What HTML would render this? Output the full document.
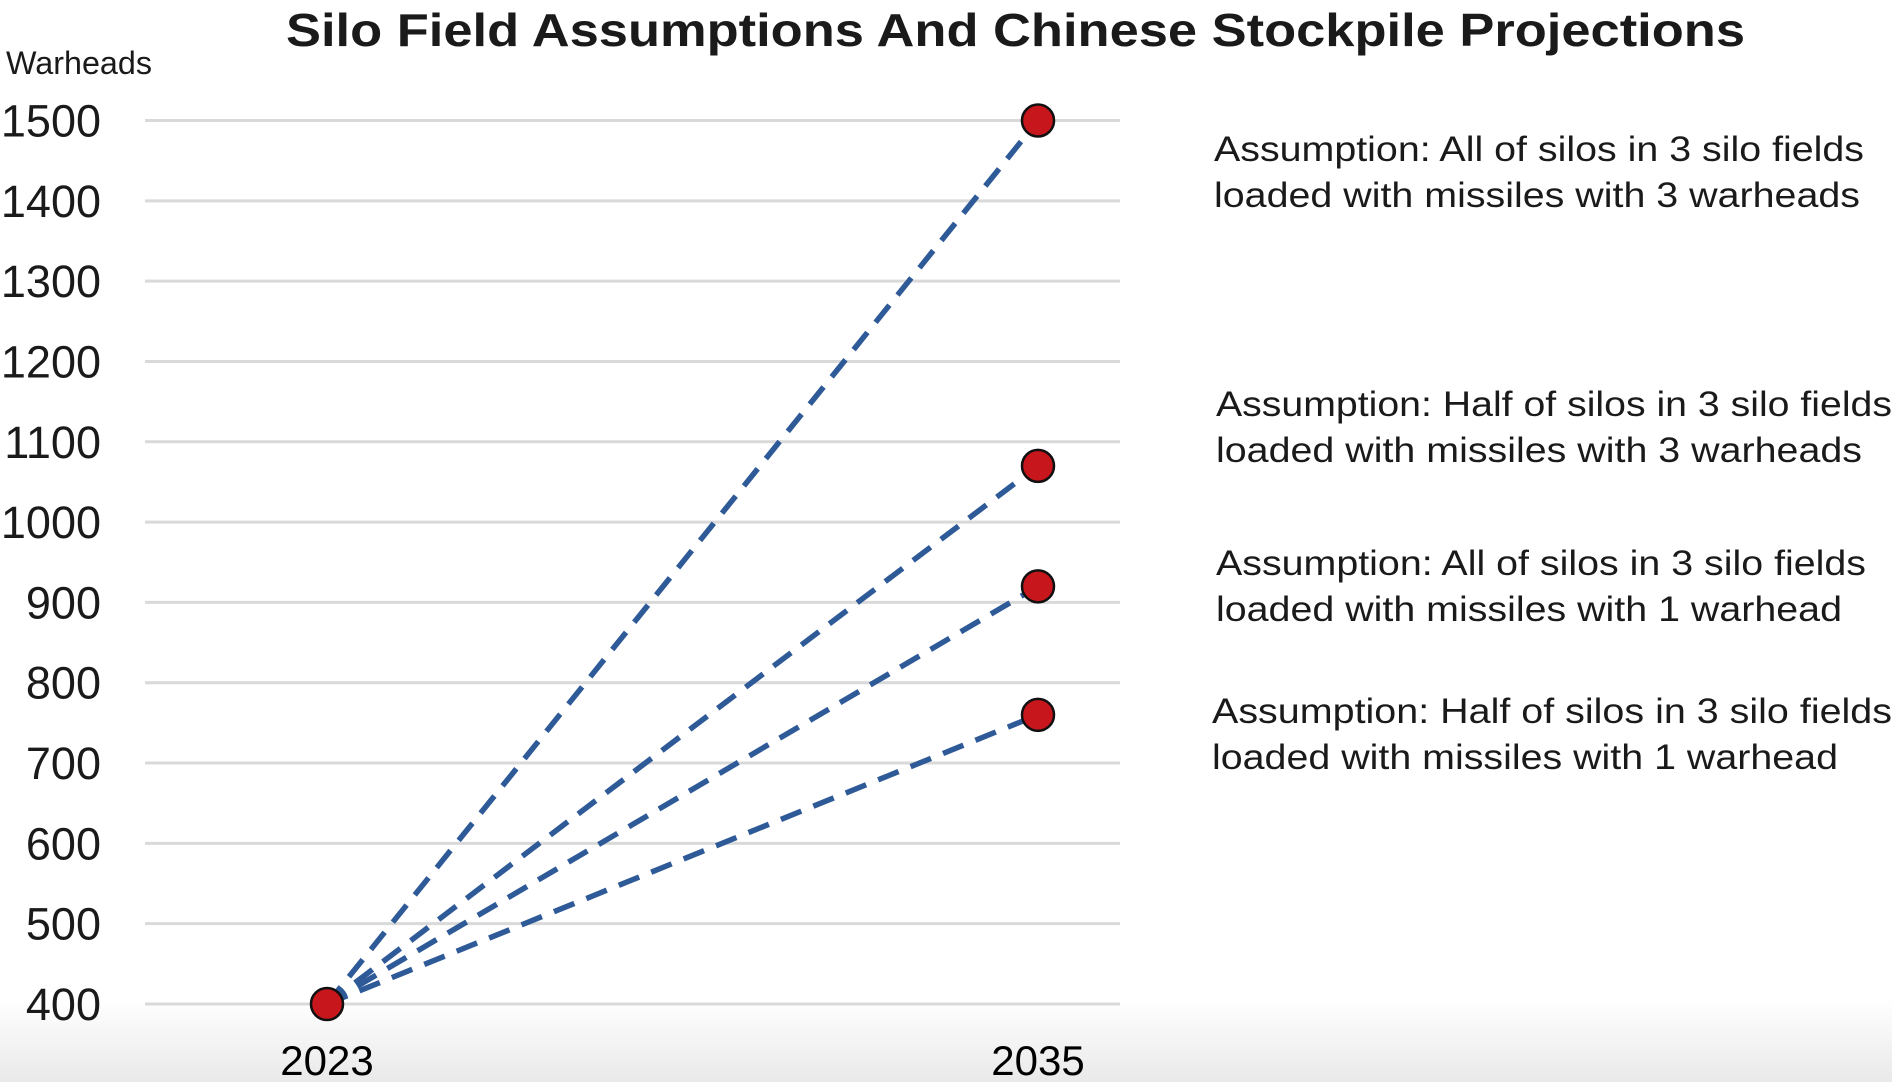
<!DOCTYPE html>
<html><head><meta charset="utf-8"><style>
html,body{margin:0;padding:0;background:#fff;}
svg{display:block;font-family:"Liberation Sans",sans-serif;}
</style></head><body>
<svg width="1892" height="1082" viewBox="0 0 1892 1082" xmlns="http://www.w3.org/2000/svg">
<defs><linearGradient id="bg" x1="0" y1="0" x2="0" y2="1">
<stop offset="0" stop-color="#ffffff"/><stop offset="1" stop-color="#e9e9e9"/></linearGradient></defs>
<rect x="0" y="0" width="1892" height="1082" fill="#fff"/>
<rect x="0" y="1000" width="1892" height="82" fill="url(#bg)"/>
<text x="286" y="46" font-size="46" font-weight="bold" fill="#1a1a1a" textLength="1459" lengthAdjust="spacingAndGlyphs">Silo Field Assumptions And Chinese Stockpile Projections</text>
<text x="6" y="74" font-size="32" fill="#1a1a1a" textLength="146" lengthAdjust="spacingAndGlyphs">Warheads</text>
<g id="grid"></g><g id="yticks"></g><g id="xticks"></g><g id="lines"></g><g id="dots"></g>
<g font-size="35" fill="#1a1a1a">
<text x="1214" y="161" textLength="650" lengthAdjust="spacingAndGlyphs">Assumption: All of silos in 3 silo fields</text>
<text x="1214" y="207" textLength="646" lengthAdjust="spacingAndGlyphs">loaded with missiles with 3 warheads</text>
<text x="1216" y="416" textLength="676" lengthAdjust="spacingAndGlyphs">Assumption: Half of silos in 3 silo fields</text>
<text x="1216" y="462" textLength="646" lengthAdjust="spacingAndGlyphs">loaded with missiles with 3 warheads</text>
<text x="1216" y="575" textLength="650" lengthAdjust="spacingAndGlyphs">Assumption: All of silos in 3 silo fields</text>
<text x="1216" y="621" textLength="626" lengthAdjust="spacingAndGlyphs">loaded with missiles with 1 warhead</text>
<text x="1212" y="723" textLength="680" lengthAdjust="spacingAndGlyphs">Assumption: Half of silos in 3 silo fields</text>
<text x="1212" y="769" textLength="626" lengthAdjust="spacingAndGlyphs">loaded with missiles with 1 warhead</text>
</g>
</svg>
<script>
const years = ["2023", "2035"];
const startValue = 400;
const endValues = [1500, 1070, 920, 760];
const yTicks = [400, 500, 600, 700, 800, 900, 1000, 1100, 1200, 1300, 1400, 1500];
const NS = "http://www.w3.org/2000/svg";
const y = v => 1004 - (v - 400) * (1004 - 120.5) / 1100;
const x = i => 327 + i * (1038 - 327);
function mk(tag, attrs, parent, txt){const e=document.createElementNS(NS,tag);for(const k in attrs)e.setAttribute(k,attrs[k]);if(txt!==undefined)e.textContent=txt;document.getElementById(parent).appendChild(e);return e;}
yTicks.forEach(t=>{
  const g=mk("line",{x1:145,x2:1120,y1:y(t),y2:y(t),stroke:"#d9d9d9","stroke-width":3},"grid");
  
  
  const l=mk("text",{x:101,y:y(t)+16,"font-size":45,"text-anchor":"end",fill:"#1a1a1a"},"yticks",String(t));
  
  
});
years.forEach((yr,i)=>{
  const l=mk("text",{x:x(i),y:1075,"font-size":42,"text-anchor":"middle",fill:"#000"},"xticks",yr);
  
  
});
const d0=mk("circle",{cx:x(0),cy:y(startValue),r:16,fill:"#c8161d",stroke:"#111","stroke-width":2.5},"dots");


endValues.forEach(v=>{
  const ln=mk("line",{x1:x(0),y1:y(startValue),x2:x(1),y2:y(v),stroke:"#2f5a98","stroke-width":5.5,"stroke-dasharray":"22 13"},"lines");
  
  
  const c=mk("circle",{cx:x(1),cy:y(v),r:16,fill:"#c8161d",stroke:"#111","stroke-width":2.5},"dots");
  
  
});
</script>
</body></html>
